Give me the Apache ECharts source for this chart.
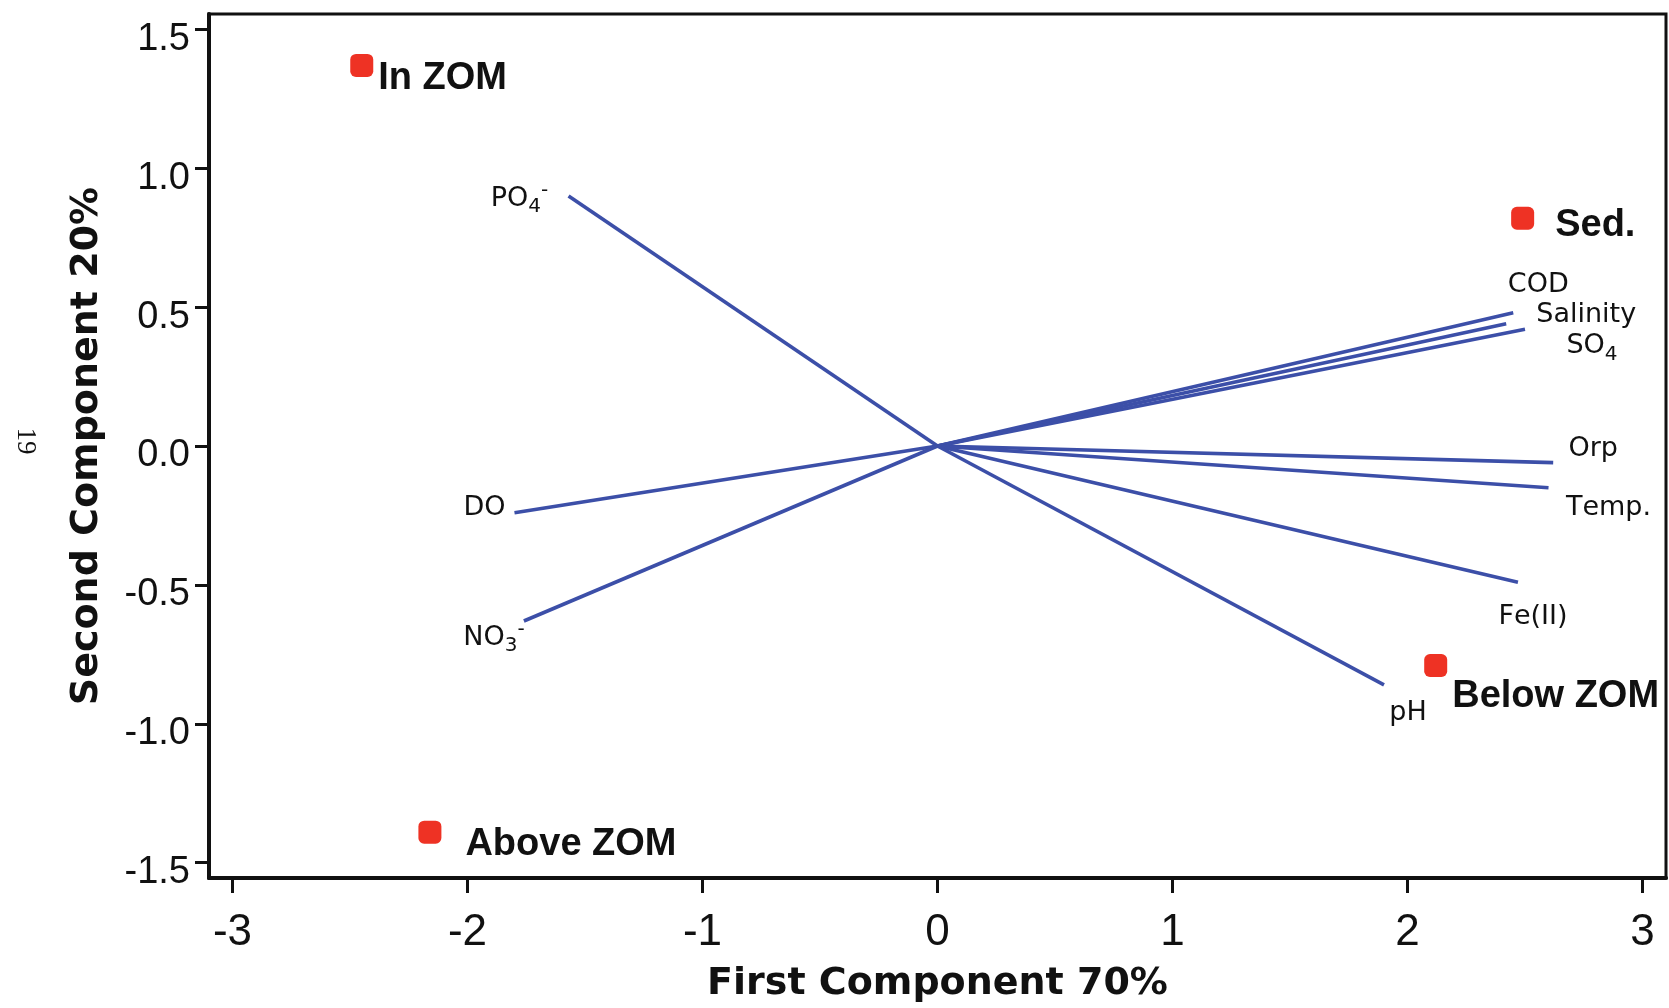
<!DOCTYPE html>
<html><head><meta charset="utf-8">
<script src="https://cdn.jsdelivr.net/npm/echarts@6/dist/echarts.min.js"></script>
<style>html,body{margin:0;padding:0;background:#fff}#c{width:1669px;height:1008px}</style>
</head><body><div id="c"></div>
<script>
// ---- data ----
const xTicks = [-3, -2, -1, 0, 1, 2, 3];
const yTicks = [-1.5, -1.0, -0.5, 0.0, 0.5, 1.0, 1.5];
const vectorNames = ['PO₄⁻', 'DO', 'NO₃⁻', 'COD', 'Salinity', 'SO₄', 'Orp', 'Temp.', 'Fe(II)', 'pH'];
const vectorX = [-1.57, -1.80, -1.76, 2.45, 2.42, 2.50, 2.62, 2.60, 2.47, 1.90];
const vectorY = [0.90, -0.24, -0.63, 0.48, 0.44, 0.42, -0.06, -0.15, -0.49, -0.86];
const sampleNames = ['In ZOM', 'Sed.', 'Below ZOM', 'Above ZOM'];
const sampleX = [-2.45, 2.49, 2.12, -2.16];
const sampleY = [1.37, 0.82, -0.79, -1.39];

// ---- styling (label placement) ----
const vecLabelOffset = [[-49,3],[-30,-5],[-30,17],[25,-28],[80,-9],[67,17],[40,-14],[60,20],[15,35],[24,28]];
const sampleLabelPlace = [
  {distance: 5, offset: [0, 13]},
  {distance: 21, offset: [0, 7]},
  {distance: 5, offset: [0, 31]},
  {distance: 24, offset: [0, 12]}
];

const ink = '#111';
const vecColor = '#3c4fa8';
const dotColor = '#ee3224';

// convert unicode sub/superscripts to rich-text tokens
function richName(s) {
  let out = '';
  for (const ch of s) {
    if ('₀₁₂₃₄₅₆₇₈₉'.includes(ch)) out += '{sub|' + ('₀₁₂₃₄₅₆₇₈₉'.indexOf(ch)) + '}';
    else if (ch === '⁻') out += '{sup|-}';
    else out += '{m|' + ch + '}';
  }
  return out;
}

const chart = echarts.init(document.getElementById('c'), null, {renderer: 'canvas'});

const vectorSeries = vectorNames.map((n, i) => ({
  type: 'line',
  name: n,
  data: [[0, 0], [vectorX[i], vectorY[i]]],
  symbol: 'none',
  lineStyle: {color: vecColor, width: 3.6},
  silent: true,
  z: 2,
  animation: false
}));

const vectorLabelSeries = {
  type: 'scatter',
  data: vectorNames.map((n, i) => ({
    value: [vectorX[i], vectorY[i]],
    name: n,
    label: {offset: vecLabelOffset[i]}
  })),
  symbol: 'circle',
  symbolSize: 1,
  itemStyle: {color: 'rgba(0,0,0,0)', opacity: 1},
  label: {
    show: true,
    position: 'inside',
    formatter: p => richName(p.name),
    color: ink,
    lineHeight: 36,
    rich: {
      m: {fontFamily: 'DejaVu Sans', fontSize: 27, color: ink, lineHeight: 36, verticalAlign: 'middle'},
      sub: {fontFamily: 'DejaVu Sans', fontSize: 20, color: ink, lineHeight: 36, verticalAlign: 'bottom'},
      sup: {fontFamily: 'DejaVu Sans', fontSize: 20, color: ink, lineHeight: 36, verticalAlign: 'top'}
    }
  },
  z: 3,
  animation: false
};

const sampleSeries = {
  type: 'scatter',
  data: sampleNames.map((n, i) => ({
    value: [sampleX[i], sampleY[i]],
    name: n,
    label: {distance: sampleLabelPlace[i].distance, offset: sampleLabelPlace[i].offset}
  })),
  symbol: 'roundRect',
  symbolSize: 23,
  itemStyle: {color: dotColor, opacity: 1},
  label: {
    show: true,
    position: 'right',
    formatter: p => p.name,
    fontFamily: 'Liberation Sans',
    fontWeight: 'bold',
    fontSize: 38,
    color: ink
  },
  z: 4,
  animation: false
};

chart.setOption({
  animation: false,
  backgroundColor: '#fff',
  grid: {left: 209, right: 3, top: 14, bottom: 130, show: true, borderColor: ink, borderWidth: 3, backgroundColor: 'transparent'},
  xAxis: {
    type: 'value', min: -3.1, max: 3.1,
    axisLine: {show: true, onZero: false, lineStyle: {color: ink, width: 4}},
    axisTick: {show: true, customValues: xTicks, length: 15, lineStyle: {color: ink, width: 3}},
    axisLabel: {customValues: xTicks, margin: 33, fontFamily: 'Liberation Sans Narrow, Liberation Sans', fontSize: 44, color: ink},
    splitLine: {show: false},
    name: 'First Component 70%', nameLocation: 'middle', nameGap: 87,
    nameTextStyle: {fontFamily: 'DejaVu Sans', fontWeight: 'bold', fontSize: 38, color: ink}
  },
  yAxis: {
    type: 'value', min: -1.555, max: 1.555,
    axisLine: {show: true, onZero: false, lineStyle: {color: ink, width: 4}},
    axisTick: {show: true, customValues: yTicks, length: 14, lineStyle: {color: ink, width: 3}},
    axisLabel: {customValues: yTicks, margin: 19, fontFamily: 'Liberation Sans', fontSize: 38, color: ink,
      verticalAlign: 'top', lineHeight: 20, formatter: v => Number(v).toFixed(1)},
    splitLine: {show: false},
    name: 'Second Component 20%', nameLocation: 'middle', nameGap: 103,
    nameTextStyle: {fontFamily: 'DejaVu Sans', fontWeight: 'bold', fontSize: 38, color: ink}
  },
  graphic: [{
    type: 'text', x: 25, y: 441, rotation: -Math.PI / 2,
    style: {text: '19', font: '27px "Liberation Serif"', fill: ink, align: 'center', verticalAlign: 'middle'}
  }],
  series: [...vectorSeries, vectorLabelSeries, sampleSeries]
});
</script></body></html>
